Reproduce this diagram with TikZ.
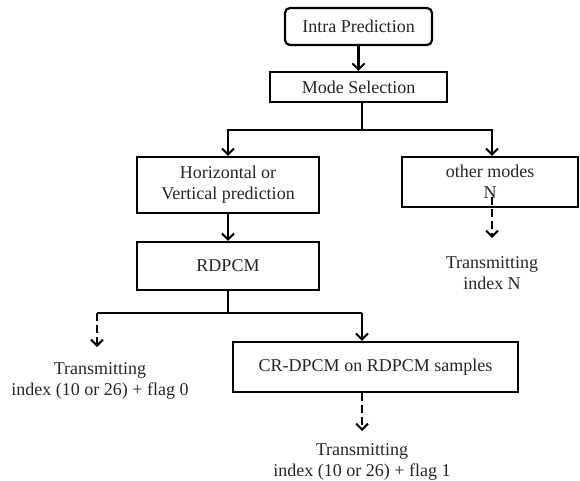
\documentclass[tikz,border=0pt]{standalone}
\usepackage{fontspec}
\setmainfont{Liberation Serif}
\usetikzlibrary{arrows.meta}
\begin{document}
\begin{tikzpicture}[x=1pt,y=-1pt,
  every node/.style={font=\fontsize{18}{21}\selectfont, text=black!85},
  box/.style={draw=black, line width=2.2pt, fill=white, align=center, inner sep=0pt},
  note/.style={align=center, inner sep=0pt},
  flow/.style={line width=2.2pt, -{Straight Barb[length=6pt,width=12pt,line width=2pt]}},
  link/.style={line width=2.2pt},
  dflow/.style={flow, dash pattern=on 8pt off 4pt}]
\useasboundingbox (0,0) rectangle (580,481);

% process boxes
\node[box, rounded corners=5pt, minimum width=147pt, minimum height=37pt] (intra) at (358.5,26.5) {Intra Prediction};
\node[box, minimum width=177pt, minimum height=30pt] (mode) at (358.5,87) {Mode Selection};
\node[box, minimum width=182pt, minimum height=56pt] (hv) at (228,185) {Horizontal or\\Vertical prediction};
\node[box, minimum width=182pt, minimum height=48pt] (rdpcm) at (228,266) {RDPCM};
\node[box, minimum width=176pt, minimum height=50pt] (other) at (490,182) {other modes\\N};
\node[box, minimum width=285pt, minimum height=50pt] (cr) at (375.5,367) {CR-DPCM on RDPCM samples};

% output notes
\node[note] (outN) at (492,273.5) {Transmitting\\index N};
\node[note] (out0) at (100,381) {Transmitting\\index (10 or 26) + flag 0};
\node[note] (out1) at (362,462) {Transmitting\\index (10 or 26) + flag 1};

% branch points and arrow ends
\coordinate (split) at (362,130);
\coordinate (merge) at (228,313);
\coordinate (leftEnd) at (97,313);
\coordinate (crIn) at (362,313);
\coordinate (tip0) at (97,347);
\coordinate (startN) at (492,197);
\coordinate (tipN) at (492,238);
\coordinate (tip1) at (362,431);

% connectors
\draw[flow] (intra.south) -- (mode.north);
\draw[link] (mode.south -| split) -- (split);
\draw[flow] (split) -| (hv.north);
\draw[flow] (split) -| (other.north -| startN);
\draw[flow] (hv.south) -- (rdpcm.north);
\draw[link] (rdpcm.south) -- (merge);
\draw[link] (leftEnd) -- (crIn);
\draw[flow] (crIn) -- (cr.north -| crIn);
\draw[dflow] (leftEnd) -- (tip0);
\draw[dflow] (startN) -- (tipN);
\draw[dflow] (cr.south -| crIn) -- (tip1);
\end{tikzpicture}
\end{document}
